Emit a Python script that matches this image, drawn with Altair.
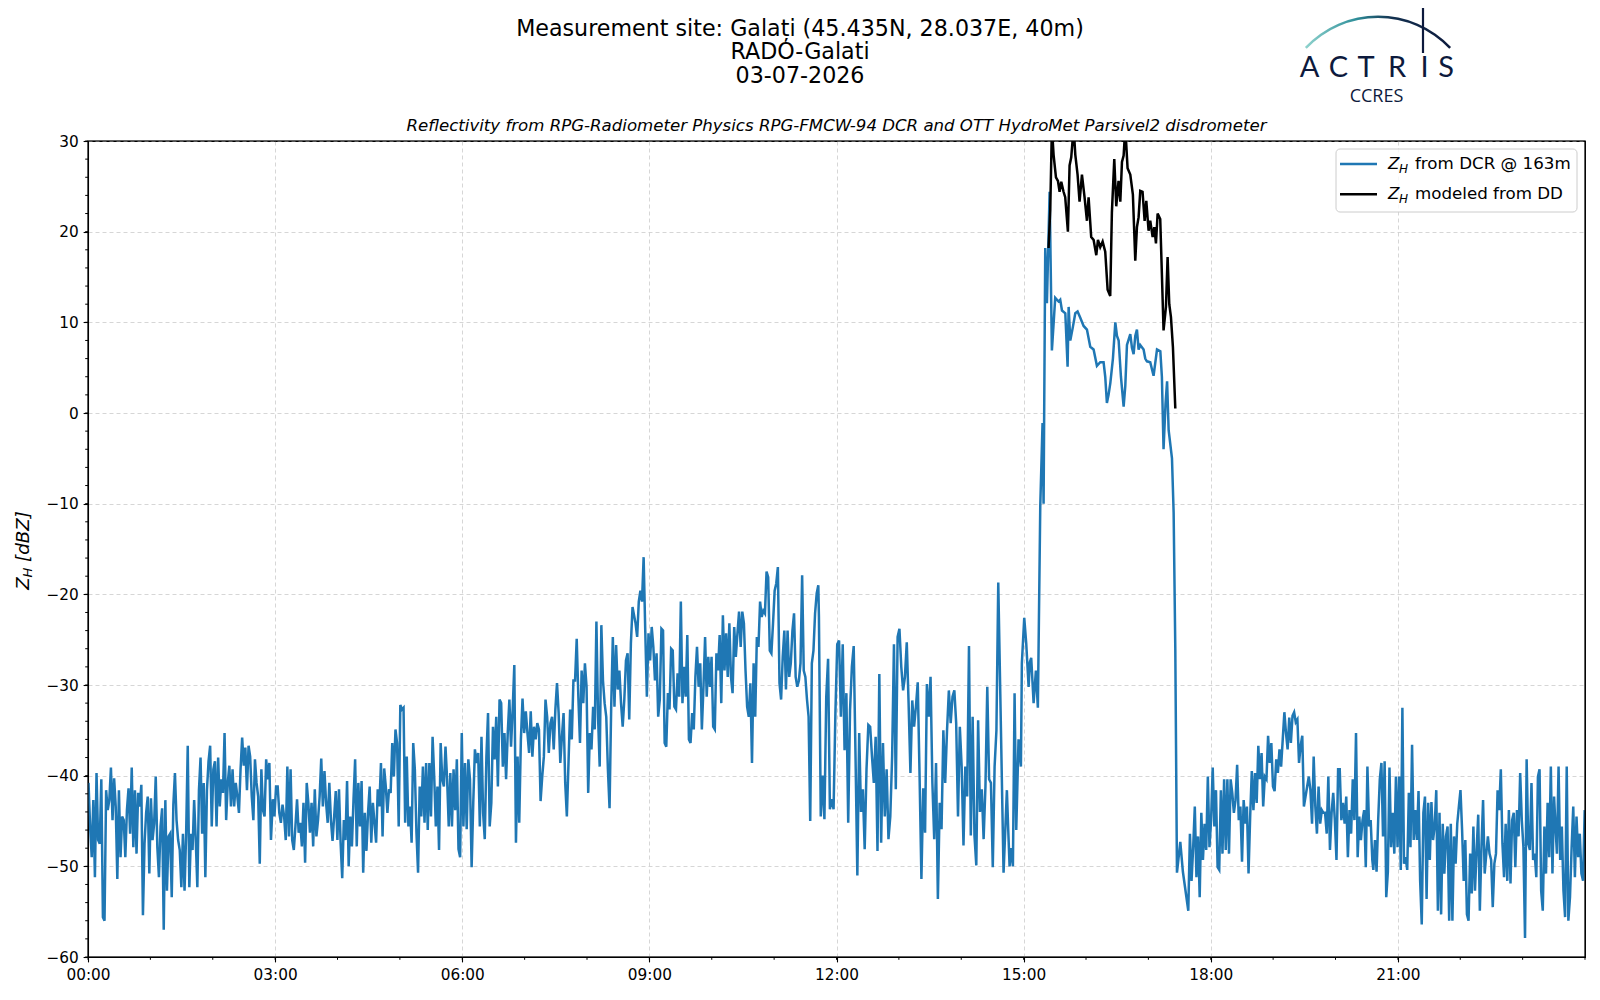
import altair as alt
import numpy as np
import pandas as pd

# ---------------- texts ----------------
title_lines = ["Measurement site: Galați (45.435N, 28.037E, 40m)", "RADO-Galati", "03-07-2026"]
subtitle_text = "Reflectivity from RPG-Radiometer Physics RPG-FMCW-94 DCR and OTT HydroMet Parsivel2 disdrometer"
legend_texts = ["from DCR @ 163m", "modeled from DD"]
ylabel_parts = ["Z", "H", "[dBZ]"]
logo_letters = ["A", "C", "T", "R", "I", "S"]
logo_sub = "CCRES"

# ---------------- axes ----------------
x_tick_minutes = [0, 180, 360, 540, 720, 900, 1080, 1260]
x_tick_labels = ["00:00", "03:00", "06:00", "09:00", "12:00", "15:00", "18:00", "21:00"]
x_minor_minutes = list(range(0, 1441, 60))
y_ticks = list(range(-60, 31, 10))
y_minor = list(range(-60, 31, 2))

# ---------------- DCR reflectivity (blue) ----------------
seg1_span = (0.5, 176.0)
seg1_vals = [-40.8, -45.6, -49.0, -42.7, -51.2, -39.7, -47.1, -47.5, -40.4, -55.6, -56.0, -41.6, -43.8, -42.7,
             -39.1, -44.9, -40.3, -43.4, -51.4, -41.6, -49.0, -44.5, -44.9, -49.0, -43.8, -41.4, -46.4, -39.1,
             -47.9, -41.6, -48.6, -41.9, -43.4, -41.0, -55.4, -47.5, -44.1, -42.3, -50.8, -42.5, -47.1, -45.3,
             -40.1, -47.9, -51.2, -45.6, -43.6, -57.0, -42.7, -52.7, -46.7, -46.4, -53.4, -43.2, -39.7, -44.9,
             -47.1, -48.2, -52.3, -46.4, -52.7, -46.4, -36.7, -52.3, -46.4, -48.2, -42.7, -47.1, -52.3, -41.6,
             -38.0, -46.4, -40.8, -51.2, -41.6, -38.4, -36.7, -45.6, -39.3, -38.4, -45.6, -38.0, -43.4, -40.4,
             -41.9, -35.3, -44.9, -40.8, -38.9, -43.4, -39.3, -43.4, -40.8, -42.3, -44.1, -39.3, -35.8, -38.9,
             -36.9, -41.6, -36.7, -37.9, -42.3, -44.9, -38.2, -40.8, -42.3, -49.7, -39.3, -43.8, -44.5, -38.2,
             -40.4, -38.6, -47.1]

seg2_span = (177.8, 353.2)
seg2_vals = [-42.6, -44.5, -41.2, -41.2, -44.1, -45.2, -43.2, -44.5, -47.1, -39.0, -46.7, -39.3, -47.1, -48.2,
             -45.6, -42.6, -46.3, -45.2, -47.8, -43.0, -49.6, -40.8, -43.0, -46.3, -43.0, -47.8, -41.5, -46.7,
             -44.9, -42.3, -38.1, -43.4, -39.5, -43.0, -45.2, -40.8, -44.9, -47.2, -44.5, -41.7, -47.1, -41.5,
             -47.4, -51.3, -44.9, -47.1, -40.6, -50.0, -44.5, -47.8, -42.6, -38.2, -47.8, -40.8, -45.6, -40.6,
             -50.7, -44.1, -48.3, -44.1, -41.2, -47.4, -43.0, -45.2, -47.4, -41.5, -43.4, -38.6, -46.7, -39.2,
             -41.2, -44.1, -41.5, -41.9, -36.4, -40.1, -34.9, -36.4, -45.6, -32.2, -32.7, -32.5, -45.2, -37.9,
             -45.6, -43.4, -47.4, -36.4, -39.3, -46.3, -50.7, -41.2, -44.5, -39.0, -45.2, -38.6, -46.0, -38.6,
             -44.5, -35.7, -40.1, -45.6, -41.2, -48.2, -36.4, -40.4, -41.2, -36.8, -40.4, -45.6, -39.7, -45.6,
             -39.3, -43.8]

seg3_span = (354.8, 523.8)
seg3_vals = [-38.2, -48.1, -49.0, -35.3, -45.6, -38.6, -45.9, -38.2, -40.4, -50.1, -43.0, -37.1, -38.6, -37.5,
             -45.6, -35.7, -44.1, -47.0, -37.9, -33.1, -45.6, -43.0, -34.6, -38.2, -33.5, -41.2, -31.6, -32.0,
             -39.0, -35.3, -40.4, -35.3, -31.6, -36.8, -32.7, -27.8, -47.4, -37.9, -45.2, -36.0, -31.5, -35.3,
             -32.9, -35.3, -37.5, -32.9, -37.9, -34.6, -36.0, -34.2, -34.9, -42.8, -40.1, -37.9, -31.6, -33.5,
             -37.5, -34.2, -33.5, -37.1, -32.7, -29.8, -33.1, -38.6, -35.7, -33.1, -40.8, -44.5, -38.6, -32.7,
             -36.0, -29.5, -29.5, -24.9, -31.3, -36.4, -28.4, -32.0, -27.6, -30.2, -41.9, -35.3, -37.1, -32.4,
             -34.9, -23.0, -33.5, -39.0, -23.4, -29.5, -32.0, -33.5, -39.3, -43.6, -32.4, -24.7, -32.4, -25.6,
             -30.5, -28.4, -32.0, -34.6, -31.6, -27.3, -26.5, -33.8, -25.4, -21.4]

seg4_span = (526.7, 702.5)
seg4_vals = [-23.2, -24.7, -20.8, -19.6, -20.8, -15.9, -24.0, -31.3, -24.3, -27.3, -23.6, -25.8, -29.5, -26.5,
             -33.5, -31.6, -23.8, -24.0, -36.4, -36.8, -30.9, -32.7, -26.0, -26.2, -32.4, -32.7, -28.7, -31.3,
             -20.8, -32.0, -28.0, -31.3, -24.5, -36.0, -36.4, -33.1, -34.9, -29.1, -25.8, -30.2, -27.6, -34.9,
             -30.2, -24.7, -31.3, -26.9, -30.2, -26.9, -34.6, -34.9, -26.5, -28.4, -24.5, -32.0, -22.3, -28.4,
             -24.3, -29.1, -23.2, -29.1, -30.9, -23.6, -26.9, -24.3, -21.9, -25.8, -21.9, -23.2, -28.4, -32.4,
             -33.5, -29.8, -38.6, -27.6, -33.5, -24.7, -25.8, -20.8, -22.5, -21.8, -22.1, -17.5, -18.1, -26.2,
             -26.5, -23.2, -19.6, -18.8, -17.0, -29.8, -31.6, -26.9, -24.0, -30.5, -24.0, -29.1, -27.6, -24.0,
             -22.1, -29.1, -30.2, -29.5, -27.6, -17.9, -28.4, -29.1, -31.6, -33.5, -45.0, -27.6, -26.2, -22.1,
             -19.9, -19.0]

seg5_span = (703.1, 875.6)
seg5_vals = [-22.5, -44.5, -40.0, -44.8, -31.3, -27.1, -43.7, -42.6, -43.7, -33.1, -25.5, -25.1, -33.5, -25.5,
             -37.2, -30.9, -45.2, -32.8, -28.0, -25.7, -37.9, -51.0, -35.3, -44.0, -41.5, -48.1, -39.3, -34.4,
             -34.6, -37.9, -40.8, -35.7, -48.3, -28.8, -47.4, -36.4, -44.5, -39.3, -47.0, -44.5, -37.9, -25.5,
             -41.5, -24.7, -23.8, -28.0, -30.6, -29.1, -25.3, -32.0, -39.7, -31.7, -34.6, -32.4, -29.7, -40.0,
             -51.4, -41.4, -46.3, -29.9, -33.5, -29.1, -40.8, -47.0, -38.6, -53.6, -43.0, -45.9, -35.0, -40.8,
             -35.0, -30.6, -34.2, -31.3, -30.6, -34.2, -44.5, -34.6, -39.0, -47.7, -39.0, -42.3, -25.7, -46.6,
             -33.5, -46.6, -49.9, -33.9, -44.0, -41.5, -47.0, -41.2, -30.2, -40.4, -40.8, -50.1, -39.0, -35.0,
             -18.7]

rain_minutes = [880.7, 883.9, 885.2, 886.5, 888.0, 889.7, 891.3, 892.9, 895.1, 897.4, 898.3, 900.6, 902.5,
                904.8, 906.0, 907.3, 909.6, 911.8, 913.7, 916.0, 918.2, 919.2, 920.8, 922.4, 925.0, 927.2,
                930.4, 933.6, 935.2, 936.9, 940.1, 942.3, 943.3, 944.9, 947.4, 949.7, 951.9, 954.5, 957.7,
                960.9, 964.1, 967.3, 970.5, 973.7, 976.9, 978.5, 980.1, 981.7, 983.4, 985.9, 988.2, 989.8,
                991.4, 993.6, 996.2, 997.8, 999.4, 1002.6, 1004.2, 1005.8, 1007.4, 1009.0, 1010.6, 1012.2,
                1015.4, 1017.0, 1018.6, 1021.8, 1025.0, 1028.3, 1031.5, 1033.0, 1034.6, 1036.5, 1038.0,
                1039.5, 1042.7, 1044.3, 1045.9, 1047.5, 1050.7, 1053.2]
rain_vals = [-50.7, -41.6, -46.0, -50.0, -48.0, -50.0, -30.9, -46.0, -36.0, -39.0, -27.6, -22.6, -25.4, -30.2,
             -27.5, -27.0, -32.0, -28.4, -32.5, -10.3, -1.1, -10.0, 18.2, 12.1, 24.4, 6.9, 12.7, 12.3, 12.5,
             11.3, 11.0, 5.1, 11.7, 8.0, 9.5, 11.0, 11.2, 10.5, 9.6, 9.2, 7.3, 7.0, 5.2, 5.6, 5.6, 4.0, 1.1,
             2.0, 3.3, 6.0, 10.0, 8.5, 8.0, 4.0, 0.7, 3.0, 7.5, 8.7, 7.2, 6.5, 8.5, 9.2, 7.0, 7.5, 7.0, 6.0,
             5.7, 5.6, 4.1, 7.0, 6.8, 4.0, -4.0, 1.0, 3.5, -1.9, -5.0, -11.0, -26.0, -50.7, -47.3, -50.6]

seg8_span = (1058.4, 1235.4)
seg8_vals = [-54.9, -46.4, -51.6, -47.9, -43.4, -51.2, -46.7, -53.4, -44.1, -49.3, -45.3, -48.2, -40.1, -47.9,
             -44.9, -39.1, -45.6, -41.6, -50.1, -50.4, -41.6, -48.6, -40.4, -48.2, -40.4, -48.6, -40.4, -41.9,
             -44.1, -42.7, -38.8, -44.9, -43.4, -49.5, -42.7, -45.3, -43.4, -50.8, -44.5, -39.5, -43.8, -39.7,
             -43.0, -36.7, -40.4, -37.5, -43.4, -40.1, -40.4, -35.6, -38.6, -36.4, -41.2, -41.7, -38.2, -39.7,
             -37.1, -39.0, -36.0, -33.0, -35.3, -37.1, -33.6, -36.4, -33.4, -33.0, -34.1, -33.8, -38.6, -36.7,
             -35.6, -43.4, -42.3, -41.2, -40.1, -41.6, -45.3, -37.9, -43.4, -46.4, -41.2, -45.3, -43.8, -44.1,
             -44.1, -46.4, -40.1, -48.2, -44.1, -41.9, -44.9, -49.3, -39.3, -39.3, -44.9, -43.0, -45.3, -42.3,
             -49.0, -43.8, -46.4, -40.4, -44.9, -35.3, -49.0, -44.5, -47.1, -44.9, -43.8, -50.1, -39.0, -45.6,
             -44.9, -49.3]

seg9_span = (1236.4, 1411.8)
seg9_vals = [-50.4, -47.1, -50.6, -44.9, -40.4, -38.6, -46.7, -38.4, -53.4, -50.6, -39.1, -47.9, -44.1, -48.6,
             -40.1, -47.9, -40.1, -50.4, -32.5, -49.7, -49.0, -50.4, -41.9, -47.9, -36.6, -47.1, -43.8, -47.1,
             -41.7, -51.6, -56.4, -44.1, -42.3, -53.6, -43.0, -49.3, -42.9, -47.1, -45.6, -41.6, -54.9, -44.1,
             -55.3, -45.3, -50.8, -46.7, -45.6, -56.0, -45.3, -56.0, -46.7, -49.7, -45.3, -43.4, -41.6, -46.0,
             -51.6, -47.1, -55.3, -56.0, -48.6, -53.0, -45.6, -52.7, -48.2, -44.3, -54.9, -47.9, -42.7, -50.8,
             -48.6, -46.7, -48.6, -49.3, -54.5, -49.7, -48.6, -41.6, -43.8, -39.3, -47.5, -51.2, -45.3, -51.6,
             -43.8, -51.9, -44.9, -44.1, -50.1, -43.8, -46.7, -39.7, -44.9, -47.9, -57.9, -38.2, -47.5, -48.2,
             -40.8, -49.3, -48.6, -51.2, -40.1, -39.3, -52.7, -54.9, -45.6, -50.8, -43.0, -49.0, -39.0, -50.8,
             -42.3, -46.0]

seg10_span = (1413.0, 1439.7)
seg10_vals = [-48.6, -39.0, -49.3, -45.6, -52.7, -55.6, -39.0, -56.0, -53.4, -47.9, -43.4, -51.2, -44.5,
              -49.0, -46.4, -50.8, -51.6, -43.8]

# ---------------- disdrometer-modelled reflectivity (black) ----------------
dd_minutes = [924.0, 925.6, 927.2, 928.8, 931.1, 933.0, 934.6, 936.2, 938.4, 940.0, 942.6, 944.2, 945.8,
              948.1, 949.7, 951.9, 953.8, 956.1, 958.6, 960.9, 962.5, 965.0, 967.3, 969.9, 971.5, 973.7,
              976.0, 978.5, 980.8, 983.3, 984.9, 987.2, 989.1, 991.3, 993.0, 994.6, 996.2, 997.8, 1000.0,
              1002.6, 1005.1, 1007.4, 1009.0, 1010.6, 1012.2, 1014.4, 1016.4, 1018.0, 1020.2, 1021.8,
              1024.1, 1025.7, 1027.3, 1028.9, 1031.4, 1033.0, 1034.6, 1036.9, 1038.5, 1040.1, 1041.7,
              1043.6, 1045.9]
dd_vals = [18.2, 22.4, 31.5, 28.5, 26.0, 25.6, 24.4, 25.5, 24.4, 23.8, 20.0, 27.3, 28.2, 31.5, 28.5, 26.3,
           23.3, 26.3, 23.8, 21.2, 23.8, 19.4, 19.1, 17.4, 19.1, 18.3, 18.9, 17.8, 13.6, 12.9, 22.1, 28.0,
           22.8, 25.6, 23.3, 27.7, 28.4, 31.5, 27.0, 26.3, 24.1, 16.8, 20.5, 21.6, 24.5, 24.4, 21.2, 23.4,
           20.1, 21.2, 19.4, 20.5, 18.7, 22.0, 21.4, 15.3, 9.1, 11.7, 17.2, 12.0, 10.6, 7.3, 0.5]

# ---------------- build tables ----------------
segments = [(seg1_span, seg1_vals), (seg2_span, seg2_vals), (seg3_span, seg3_vals), (seg4_span, seg4_vals),
            (seg5_span, seg5_vals)]
mins, vals = [], []
for (a, b), v in segments:
    mins += list(np.linspace(a, b, len(v)))
    vals += list(v)
mins += rain_minutes
vals += rain_vals
for (a, b), v in [(seg8_span, seg8_vals), (seg9_span, seg9_vals), (seg10_span, seg10_vals)]:
    mins += list(np.linspace(a, b, len(v)))
    vals += list(v)
dcr = pd.DataFrame({"minute": mins, "zh": vals})
dd = pd.DataFrame({"minute": dd_minutes, "zh": dd_vals})

FONT = "DejaVu Sans"
BLUE = "#1f77b4"
NAVY = "#0d1a3d"
W, H = 1497, 816

label_expr = "[" + ",".join("'%s'" % s for s in x_tick_labels) + "][round(datum.value/180)]"

xscale = alt.Scale(domain=[0, 1440], nice=False, zero=False)
yscale = alt.Scale(domain=[-60, 30], nice=False, zero=False)

blue = alt.Chart(dcr).mark_line(color=BLUE, strokeWidth=2.5, clip=True).encode(
    x=alt.X("minute:Q", scale=xscale, title=None,
            axis=alt.Axis(values=x_tick_minutes, labelExpr=label_expr, labelPadding=5.5,
                          labelFlush=False, labelOverlap=False)),
    y=alt.Y("zh:Q", scale=yscale, title=None,
            axis=alt.Axis(values=y_ticks, labelExpr="replace(datum.label, '-', '\u2212')",
                          labelPadding=4.9, labelFlush=False, labelOverlap=False)),
)
black = alt.Chart(dd).mark_line(color="black", strokeWidth=2.5, clip=True).encode(
    x="minute:Q", y="zh:Q")

xminor = alt.Chart(pd.DataFrame({"m": x_minor_minutes})).mark_rule(color="black", strokeWidth=1).encode(
    x="m:Q", y=alt.value(H), y2=alt.value(H + 2.8))
yminor = alt.Chart(pd.DataFrame({"v": y_minor})).mark_rule(color="black", strokeWidth=1).encode(
    y="v:Q", x=alt.value(0), x2=alt.value(-2.8))

one = pd.DataFrame({"a": [0]})
frame = alt.Chart(one).mark_rect(fillOpacity=0, stroke="black", strokeWidth=1.1).encode(
    x=alt.value(0), x2=alt.value(W), y=alt.value(0), y2=alt.value(H))


def txt(s, x, y, size, **kw):
    opts = dict(fontSize=size, font=FONT, color="black", baseline="middle", align="center")
    opts.update(kw)
    return alt.Chart(pd.DataFrame({"t": [s]})).mark_text(**opts).encode(
        text="t:N", x=alt.value(x), y=alt.value(y))


texts = [
    txt(title_lines[0], 712, -112.4, 22.2),
    txt(title_lines[1], 712, -89, 22.2),
    txt(title_lines[2], 712, -65.5, 22.2),
    txt(subtitle_text, W / 2, -15.5, 16.6, fontStyle="italic"),
    # y axis label
    txt(ylabel_parts[0], -64.5, 442.5, 18.3, fontStyle="italic", angle=270),
    txt(ylabel_parts[1], -60, 431.5, 13, fontStyle="italic", angle=270),
    txt(ylabel_parts[2], -64.5, 395.5, 18.3, fontStyle="italic", angle=270),
]

legend_box = alt.Chart(one).mark_rect(fill="white", fillOpacity=0.8, stroke="#cccccc", strokeWidth=1,
                                      cornerRadius=4).encode(
    x=alt.value(1248), x2=alt.value(1489), y=alt.value(8), y2=alt.value(71))
leg = [legend_box]
for i, (col, lab) in enumerate(zip([BLUE, "black"], legend_texts)):
    yy = 23 + i * 30.3
    leg.append(alt.Chart(one).mark_rule(color=col, strokeWidth=2.5).encode(
        x=alt.value(1252), x2=alt.value(1289), y=alt.value(yy)))
    leg.append(txt(ylabel_parts[0], 1300, yy, 16.7, fontStyle="italic", align="left"))
    leg.append(txt(ylabel_parts[1], 1311, yy + 5, 12, fontStyle="italic", align="left"))
    leg.append(txt(lab, 1327, yy, 16.7, align="left"))

# logo
grad = alt.LinearGradient(gradient="linear", x1=0, x2=1, y1=0, y2=0,
                          stops=[alt.GradientStop(color="#8fd3cd", offset=0),
                                 alt.GradientStop(color="#2f8f9a", offset=0.35),
                                 alt.GradientStop(color="#13304f", offset=0.6),
                                 alt.GradientStop(color=NAVY, offset=1)])
arc = alt.Chart(one).mark_arc(theta=5.469, theta2=7.097, radius=100.5, radius2=98, fill=grad,
                              x=1290, y=-25).encode()
vline = alt.Chart(one).mark_rule(color=NAVY, strokeWidth=2.2).encode(
    x=alt.value(1335), y=alt.value(-133), y2=alt.value(-88))
letter_x = [1221.5, 1250.5, 1278, 1309, 1336.5, 1358]
logo = [arc, vline]
for lx, ch in zip(letter_x, logo_letters):
    logo.append(txt(ch, lx, -64.5, 29, font="Lato", color=NAVY, baseline="alphabetic"))
logo.append(txt(logo_sub, 1288.5, -39.5, 18, font="Open Sans", color=NAVY, baseline="alphabetic"))

chart = alt.layer(blue, black, xminor, yminor, frame, *texts, *leg, *logo).properties(
    width=W, height=H,
    autosize=alt.AutoSizeParams(type="none"),
    padding={"left": 80, "top": 133, "right": 5, "bottom": 30},
    background="white",
).configure_view(stroke="black", strokeWidth=1.1).configure_axis(
    grid=True, gridColor="#cccccc", gridDash=[4, 3], gridWidth=0.8,
    domainColor="black", domainWidth=1.1, tickColor="black", tickWidth=1.1, tickSize=4.9,
    labelColor="black", labelFont=FONT, labelFontSize=15.3,
)

chart.save("out.html", embed_options={"renderer": "svg", "actions": False})
